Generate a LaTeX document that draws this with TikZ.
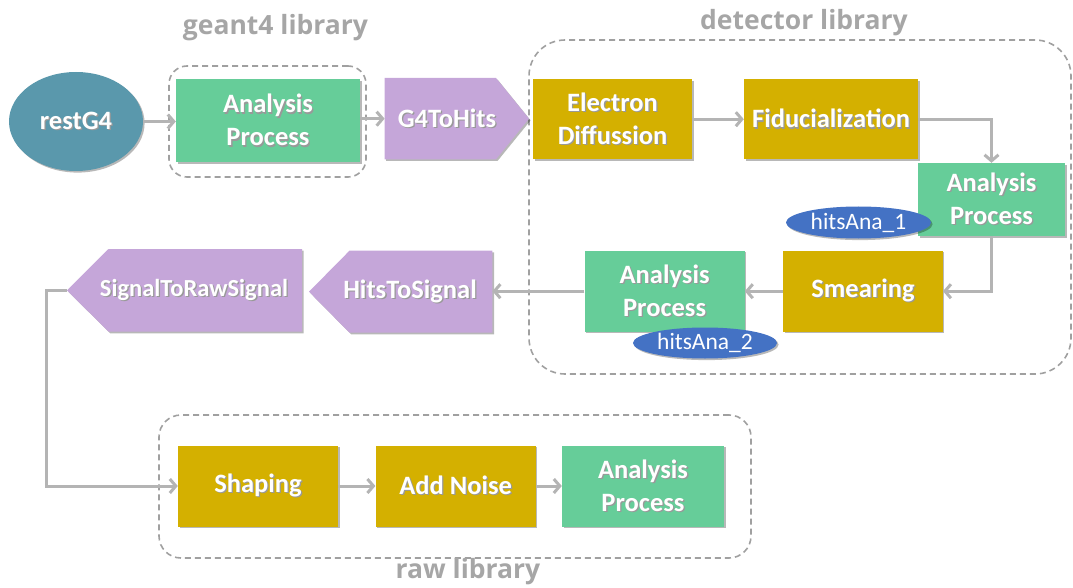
\documentclass[tikz,border=0pt]{standalone}
\usepackage{fontspec}
\setmainfont{Carlito}
\newfontfamily\libfont{Open Sans}
\usetikzlibrary{arrows.meta,shadows,shapes.geometric}
\definecolor{cgreen}{RGB}{102,205,153}
\definecolor{cgold}{RGB}{212,176,0}
\definecolor{clav}{RGB}{197,166,217}
\definecolor{cteal}{RGB}{90,152,172}
\definecolor{cblue}{RGB}{68,114,196}
\definecolor{cline}{RGB}{180,180,180}
\definecolor{cdash}{RGB}{160,160,160}
\definecolor{clib}{RGB}{166,166,166}
\newcommand\shd[1]{\leavevmode\rlap{\kern1.3pt\raisebox{-1.3pt}{\textcolor{black!40}{#1}}}#1}
\begin{document}
\begin{tikzpicture}[x=1pt,y=-1pt,
  shadowed/.style={drop shadow={shadow xshift=1.6pt,shadow yshift=-1.6pt,opacity=0.28,fill=black}},
  lbl/.style={inner sep=0pt, text=white, font=\fontsize{26.5}{33}\selectfont\bfseries, align=center},
  anabox/.style={lbl, rectangle, fill=cgreen, shadowed},
  detbox/.style={lbl, rectangle, fill=cgold, shadowed},
  convshape/.style={fill=clav, shadowed},
  tag/.style={ellipse, fill=cblue, text=white, inner sep=0pt, font=\fontsize{23.5}{28}\selectfont, shadowed},
  conn/.style={draw=cline, line width=3pt, -{Straight Barb[length=6pt,width=14pt]}},
  libbox/.style={draw=cdash, line width=1.6pt, dash pattern=on 6pt off 4pt, inner sep=0pt},
  libtitle/.style={text=clib, inner sep=0pt, font=\libfont\fontsize{26.5}{32}\selectfont\bfseries}]
\useasboundingbox (0,0) rectangle (1073,588);

% library frames
\node[libbox, rounded corners=18pt, minimum width=197pt, minimum height=111pt] (g4lib) at (267.5,121.5) {};
\node[libbox, rounded corners=36pt, minimum width=542pt, minimum height=334pt] (detlib) at (800,207) {};
\node[libbox, rounded corners=22pt, minimum width=592pt, minimum height=143pt] (rawlib) at (455,486.5) {};
\node[libtitle] (g4title) at (275.5,28) {geant4 library};
\node[libtitle] (dettitle) at (804,23) {detector library};
\node[libtitle] (rawtitle) at (468,572) {raw library};

% row 1
\node[lbl, ellipse, fill=cteal, minimum width=134pt, minimum height=99pt, shadowed] (rest) at (76,121.5) {\shd{restG4}};
\node[anabox, minimum width=184pt, minimum height=83pt] (ap1) at (268,120.7) {\shd{Analysis}\\\shd{Process}};
\fill[convshape] (384.6,78) -- (496,78) -- (529,118.7) -- (496,159.3) -- (384.6,159.3) -- cycle;
\node[lbl] (g4h) at (447,118.7) {\shd{G4ToHits}};
\coordinate (g4hw) at (384.6,118.7);
\node[detbox, minimum width=159pt, minimum height=80pt] (ed) at (612.5,119.2) {\shd{Electron}\\\shd{Diffussion}};
\node[detbox, minimum width=174pt, minimum height=80pt] (fid) at (831,119.2) {\shd{Fiducialization}};
\node[anabox, minimum width=147pt, minimum height=73pt] (ap2) at (991.5,199.5) {\shd{Analysis}\\\shd{Process}};

% row 2
\node[detbox, minimum width=159.5pt, minimum height=81pt] (smear) at (863,291.2) {\shd{Smearing}};
\node[anabox, minimum width=160pt, minimum height=81pt] (ap3) at (664.6,291.2) {\shd{Analysis}\\\shd{Process}};
\fill[convshape] (309,291.7) -- (349.5,250.7) -- (492.4,250.7) -- (492.4,332.7) -- (349.5,332.7) -- cycle;
\node[lbl] (hts) at (410,291.7) {\shd{HitsToSignal}};
\coordinate (htse) at (492.4,291.2);
\fill[convshape] (67,290.3) -- (108.5,249) -- (302,249) -- (302,331.7) -- (108.5,331.7) -- cycle;
\node[lbl, font=\fontsize{24.5}{30}\selectfont\bfseries] (strs) at (194,290.3) {\shd{SignalToRawSignal}};
\coordinate (strstip) at (67,290.3);
\coordinate (bend) at (46,290.3);

% row 3
\node[detbox, minimum width=160pt, minimum height=81pt] (shaping) at (258,486) {\shd{Shaping}};
\node[detbox, minimum width=160pt, minimum height=81pt] (addnoise) at (455.6,486) {\shd{Add Noise}};
\node[anabox, minimum width=162pt, minimum height=81pt] (ap4) at (643,486) {\shd{Analysis}\\\shd{Process}};

% tags
\node[tag, minimum width=145pt, minimum height=32pt] (tag1) at (858.5,222.5) {hitsAna\_1};
\node[tag, minimum width=144pt, minimum height=31pt] (tag2) at (705,343) {hitsAna\_2};

% connectors
\draw[conn] (rest.east) -- (rest.east -| ap1.west);
\draw[conn] (ap1.east |- g4hw) -- (g4hw);
\draw[conn] (ed.east) -- (fid.west);
\draw[conn] (fid.east) -| (ap2.north);
\draw[conn] (ap2.south) |- (smear.east);
\draw[conn] (smear.west) -- (ap3.east);
\draw[conn] (ap3.west) -- (htse);
\draw[conn] (strstip) -- (bend) |- (shaping.west);
\draw[conn] (shaping.east) -- (addnoise.west);
\draw[conn] (addnoise.east) -- (ap4.west);
\end{tikzpicture}
\end{document}
